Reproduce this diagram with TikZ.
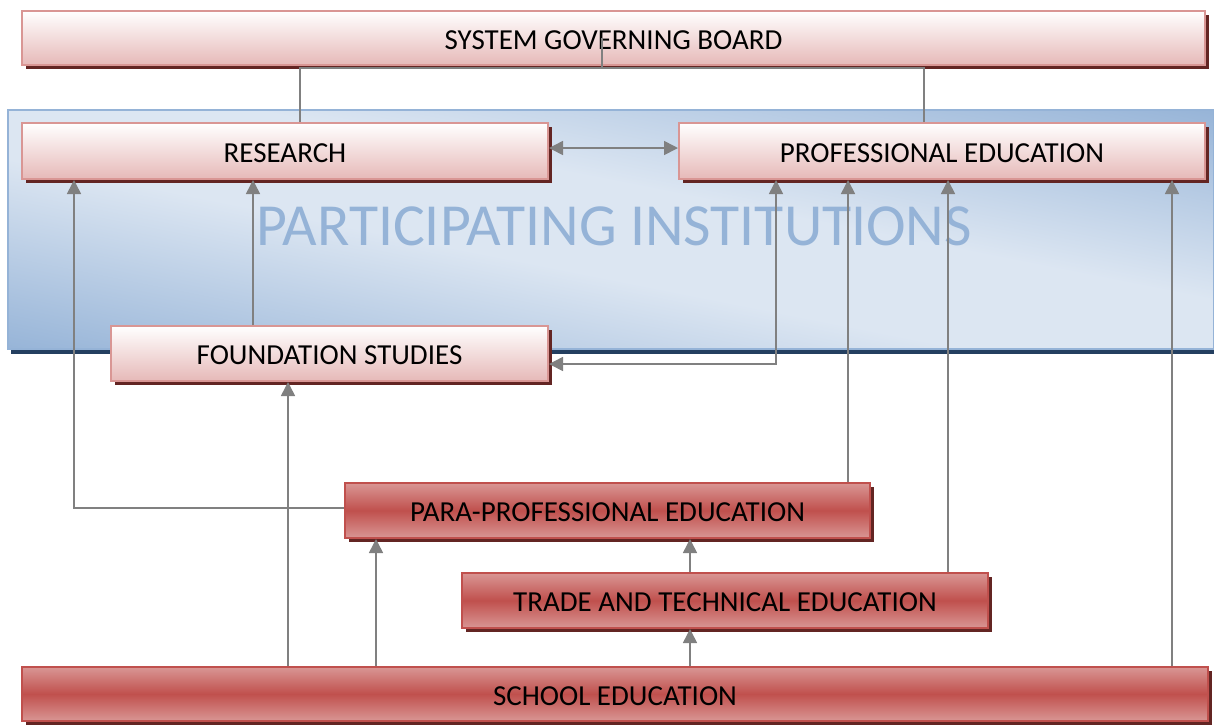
\documentclass[tikz,border=0pt]{standalone}
\usepackage{fontspec}
\setmainfont{Carlito}
\usetikzlibrary{shadows,arrows.meta}
\definecolor{pinkB}{HTML}{D99694}
\definecolor{pinkL}{HTML}{E6B9B8}
\definecolor{redM}{HTML}{C0504D}
\definecolor{shadowred}{HTML}{632523}
\definecolor{blueD}{HTML}{95B3D7}
\definecolor{blueL}{HTML}{DCE6F2}
\definecolor{navy}{HTML}{243F60}
\definecolor{conngray}{HTML}{808080}
\definecolor{bigtext}{HTML}{95B3D7}
\pgfdeclareverticalshading{panelshade}{100bp}{color(0bp)=(blueD); color(25bp)=(blueD); color(45bp)=(blueL); color(55bp)=(blueL); color(75bp)=(blueD); color(100bp)=(blueD)}
\tikzset{
  box/.style={rectangle, line width=2pt, inner sep=0pt,
    font=\fontsize{29}{34}\selectfont, text=black, text height=22.5pt, text depth=0pt,
    drop shadow={shadow xshift=4pt, shadow yshift=-4pt, fill=shadowred, opacity=1}},
  lightbox/.style={box, draw=pinkB, top color=white, bottom color=pinkL},
  darkbox/.style={box, draw=redM, top color=pinkB, bottom color=pinkB, middle color=redM},
  conn/.style={draw=conngray, line width=1.6pt},
  arr/.style={conn, -{Triangle[length=14pt,width=14pt]}},
  darr/.style={conn, {Triangle[length=14pt,width=14pt]}-{Triangle[length=14pt,width=14pt]}},
}
\begin{document}
\begin{tikzpicture}[x=1pt, y=-1pt]
\useasboundingbox (0,0) rectangle (1214,724);
% panel
\fill[navy] (11,114) rectangle (1217,354);
\begin{scope}
  \clip (8,110) rectangle (1214,349);
  \begin{scope}[x=1pt, y=1pt, transform canvas={cm={12.06,-2.39,0,2.39,(8pt,-349pt)}}]
    \shade[shading=panelshade] (-2,-2) rectangle (102,202);
  \end{scope}
\end{scope}
\draw[blueD, line width=1.5pt] (8,110) rectangle (1214,349);
\node[font=\fontsize{59.7}{62}\selectfont, text=bigtext, anchor=base, inner sep=0pt] (pi) at (614,245) {PARTICIPATING INSTITUTIONS};
% boxes
\node[lightbox, minimum width=1183pt, minimum height=54pt] (board) at (613.5,38) {SYSTEM GOVERNING BOARD};
\node[lightbox, minimum width=526pt, minimum height=56pt] (research) at (285,151) {RESEARCH};
\node[lightbox, minimum width=526pt, minimum height=56pt] (professional) at (942,151) {PROFESSIONAL EDUCATION};
\node[lightbox, minimum width=437pt, minimum height=55pt] (foundation) at (329.5,353.5) {FOUNDATION STUDIES};
\node[darkbox, minimum width=525pt, minimum height=55pt] (para) at (607.5,510.5) {PARA-PROFESSIONAL EDUCATION};
\node[darkbox, minimum width=526pt, minimum height=55pt] (trade) at (725,600.5) {TRADE AND TECHNICAL EDUCATION};
\node[darkbox, minimum width=1186pt, minimum height=54pt] (school) at (615,694) {SCHOOL EDUCATION};
% connectors
\coordinate (bj) at (602,68);
\draw[conn] (bj |- board.center) -- (bj);
\draw[conn] ([xshift=15pt]research.north) |- (bj) -| ([xshift=-18pt]professional.north);
\draw[darr] ([yshift=3pt]research.east) -- ([yshift=3pt]professional.west);
\draw[arr] ([yshift=2.5pt]para.west) -| ([xshift=-211pt]research.south);
\coordinate (f253) at ([xshift=-76.5pt]foundation.north);
\draw[arr] (f253) -- (f253 |- research.south);
\draw[darr] ([xshift=-166pt]professional.south) |- ([yshift=-10.5pt]foundation.east);
\coordinate (p848) at ([xshift=240.5pt]para.north);
\draw[arr] (p848) -- (p848 |- professional.south);
\coordinate (t948) at ([xshift=223pt]trade.north);
\draw[arr] (t948) -- (t948 |- professional.south);
\coordinate (s1172) at ([xshift=557pt]school.north);
\draw[arr] (s1172) -- (s1172 |- professional.south);
\coordinate (s288) at ([xshift=-327pt]school.north);
\draw[arr] (s288) -- (s288 |- foundation.south);
\coordinate (s376) at ([xshift=-239pt]school.north);
\draw[arr] (s376) -- (s376 |- para.south);
\coordinate (s690) at ([xshift=75pt]school.north);
\draw[arr] (s690) -- (s690 |- trade.south);
\coordinate (t690) at ([xshift=-35pt]trade.north);
\draw[arr] (t690) -- (t690 |- para.south);
\end{tikzpicture}
\end{document}
